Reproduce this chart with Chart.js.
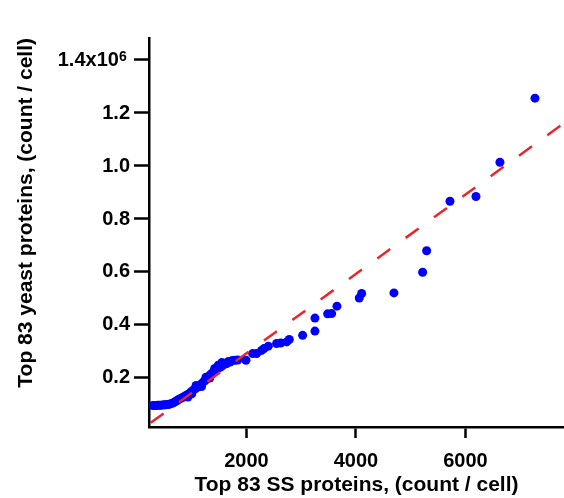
<!DOCTYPE html>
<html>
<head>
<meta charset="utf-8">
<script src="https://cdn.jsdelivr.net/npm/chart.js@4.4.1/dist/chart.umd.min.js"></script>
<style>
  html, body { margin: 0; padding: 0; background: #fff; }
</style>
</head>
<body>
<canvas id="chart" width="564" height="498"></canvas>
<script>
// SS protein counts (x) vs yeast protein counts (y), per cell
const ssCounts = [
    290, 320, 350, 380, 410, 440, 470, 500, 530, 560,
    590, 620, 650, 680, 710, 740, 770, 800, 830, 860,
    890, 920, 950, 980, 1010, 1040, 1070, 1100, 1130, 1160,
    1190, 1220, 1250, 1280, 1310, 1340, 1370, 1400, 1430, 1456,
    1485, 1520, 1560, 1600, 1638, 1670, 1700, 1740, 1790, 1840,
    1991, 2113, 2186, 2277, 2320, 2399, 2551, 2625, 2734, 2782,
    3026, 3251, 3251, 3483, 3556, 3653, 4060, 4104, 4694, 5218,
    5291, 5717, 6192, 6630, 7270,
    930, 1000, 1080, 1180, 1260, 1330, 1420, 1550
];
const yeastCounts = [
    96000, 96000, 96500, 97000, 97000, 97500, 98000, 98500, 99000, 100000,
    101000, 103000, 105000, 108000, 112000, 116000, 120000, 123000, 126000, 129000,
    133000, 137000, 140000, 146000, 151000, 156000, 160000, 165000, 170000, 174000,
    180000, 186000, 191000, 198000, 205000, 212000, 218000, 224000, 230000, 236000,
    248000, 240000, 246000, 255000, 254000, 262000, 260000, 266000, 267000, 268000,
    267000, 292000, 292000, 304000, 311000, 320000, 330000, 332000, 336000, 345000,
    361000, 377000, 426000, 442000, 443000, 471000, 502000, 519000, 521000, 599000,
    680000, 867000, 885000, 1014000, 1256000,
    128000, 140000, 172000, 168000, 203000, 200000, 236000, 258000
];

// dashed reference line end points
const fitX = [250, 7800];
const fitY = [30900, 1162000];

const xTicks = [2000, 4000, 6000];
const yTicks = [200000, 400000, 600000, 800000, 1000000, 1200000, 1400000];
const yExponent = '6';

const xTitle = 'Top 83 SS proteins, (count / cell)';
const yTitle = 'Top 83 yeast proteins, (count / cell)';

const FONT = '"Liberation Sans", Arial, Helvetica, sans-serif';
const Y_TICK_LEN = 15;
const Y_TICK_PAD = 4;

const points = ssCounts.map((x, i) => ({x: x, y: yeastCounts[i]}));
const fitLine = fitX.map((x, i) => ({x: x, y: fitY[i]}));

// the top y label is "1.4x10" + two spaces; the raised exponent goes in that gap
const superscriptPlugin = {
    id: 'superscript',
    afterDraw(chart) {
        const s = chart.scales.y;
        const y = s.getPixelForValue(yTicks[yTicks.length - 1]);
        const ctx = chart.ctx;
        ctx.save();
        ctx.font = 'bold 20px ' + FONT;
        const gap = ctx.measureText('  ').width;
        const textEnd = s.right - Y_TICK_LEN - Y_TICK_PAD - gap;
        ctx.font = 'bold 14px ' + FONT;
        ctx.fillStyle = '#000';
        ctx.textAlign = 'left';
        ctx.textBaseline = 'alphabetic';
        ctx.fillText(yExponent, textEnd, y + 1);
        ctx.restore();
    }
};

new Chart(document.getElementById('chart').getContext('2d'), {
    type: 'scatter',
    data: {
        datasets: [
            {
                type: 'line',
                data: fitLine,
                borderColor: '#e8262b',
                borderWidth: 2.5,
                borderDash: [16, 19],
                pointRadius: 0,
                fill: false,
                order: 0
            },
            {
                data: points,
                backgroundColor: '#0000ff',
                borderWidth: 0,
                pointRadius: 4.5,
                order: 1
            }
        ]
    },
    options: {
        responsive: false,
        animation: false,
        devicePixelRatio: 1,
        layout: {
            autoPadding: false,
            padding: {top: 38, right: 0, left: 0, bottom: 0}
        },
        plugins: {
            legend: {display: false},
            tooltip: {enabled: false}
        },
        scales: {
            x: {
                type: 'linear',
                min: 220,
                max: 7800,
                border: {color: '#000', width: 2.5},
                grid: {
                    drawOnChartArea: false,
                    color: '#000',
                    tickColor: '#000',
                    tickWidth: 2.5,
                    tickLength: 11
                },
                ticks: {
                    color: '#000',
                    padding: 11,
                    maxRotation: 0,
                    font: {family: FONT, size: 20, weight: 'bold'},
                    callback: (v) => String(v)
                },
                afterBuildTicks(scale) {
                    scale.ticks = xTicks.map(v => ({value: v}));
                },
                afterFit(scale) {
                    scale.height = 71;
                    scale.paddingLeft = 0;
                    scale.paddingRight = 0;
                },
                title: {
                    display: true,
                    text: xTitle,
                    color: '#000',
                    font: {family: FONT, size: 21, weight: 'bold'},
                    padding: {top: 0, bottom: 0}
                }
            },
            y: {
                type: 'linear',
                min: 15000,
                max: 1483000,
                border: {color: '#000', width: 2.5},
                grid: {
                    drawOnChartArea: false,
                    color: '#000',
                    tickColor: '#000',
                    tickWidth: 2.5,
                    tickLength: Y_TICK_LEN
                },
                ticks: {
                    color: '#000',
                    padding: Y_TICK_PAD,
                    font: {family: FONT, size: 20, weight: 'bold'},
                    callback: (v) => {
                        const s = (v / 1e6).toFixed(1);
                        return v === yTicks[yTicks.length - 1] ? s + 'x10  ' : s;
                    }
                },
                afterBuildTicks(scale) {
                    scale.ticks = yTicks.map(v => ({value: v}));
                },
                afterFit(scale) {
                    scale.width = 149;
                    scale.paddingTop = 0;
                    scale.paddingBottom = 0;
                },
                title: {
                    display: true,
                    text: yTitle,
                    align: 'end',
                    color: '#000',
                    font: {family: FONT, size: 21, weight: 'bold'},
                    padding: {top: 14, bottom: 0}
                }
            }
        }
    },
    plugins: [superscriptPlugin]
});
</script>
</body>
</html>
